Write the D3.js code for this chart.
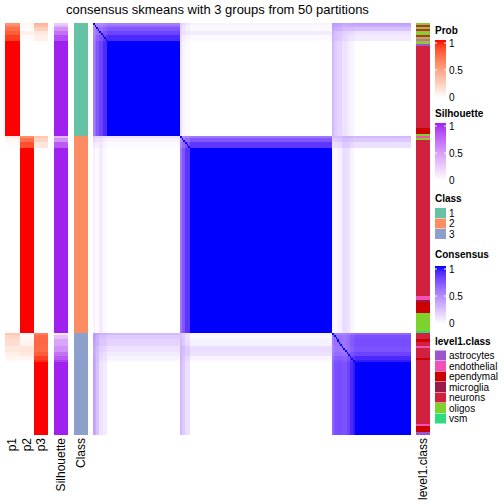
<!DOCTYPE html>
<html><head><meta charset="utf-8">
<script src="https://cdn.jsdelivr.net/npm/d3@7"></script>
<style>
html,body{margin:0;padding:0;background:#fff;}
text{font-family:"Liberation Sans",Arial,Helvetica,sans-serif;}
</style></head>
<body><div id="chart"></div>
<script>
// ---------------- DATA ----------------
const chartTitle = "consensus skmeans with 3 groups from 50 partitions";
// runs of samples in row order (count, class, membership probs p1..p3, silhouette)
const segCounts = [1, 1, 2, 2, 3, 46,   1, 2, 3, 90,   1, 2, 3, 3, 2, 2, 1, 35];
const segClass  = [1, 1, 1, 1, 1, 1,    2, 2, 2, 2,    3, 3, 3, 3, 3, 3, 3, 3];
const segP1     = [0.55,0.62,0.72,0.80,0.90,1.00, 0.12,0.05,0.02,0.00, 0.30,0.22,0.18,0.12,0.08,0.05,0.03,0.00];
const segP2     = [0.05,0.03,0.02,0.08,0.02,0.00, 0.58,0.72,0.85,1.00, 0.05,0.03,0.06,0.14,0.12,0.05,0.02,0.00];
const segP3     = [0.40,0.35,0.26,0.12,0.08,0.00, 0.30,0.23,0.13,0.00, 0.65,0.75,0.76,0.74,0.80,0.90,0.95,1.00];
const segSil    = [0.25,0.35,0.55,0.70,0.85,1.00, 0.35,0.55,0.80,1.00, 0.10,0.30,0.45,0.55,0.70,0.80,0.90,1.00];
// level1.class runs in row order
const l1Counts = [1,1,1,1,2,1,1,1,1,1, 40, 3, 1, 1,1, 76, 2,1,5, 9, 1, 3,1,2,1,1,4,1, 31, 1, 3];
const l1Labels = ["oligos","neurons","oligos","neurons","oligos","neurons","oligos","endothelial","oligos","astrocytes",
  "neurons","ependymal","oligos","endothelial","oligos","neurons","endothelial","microglia","ependymal","oligos","vsm",
  "neurons","ependymal","neurons","endothelial","neurons","neurons","ependymal","neurons","endothelial","ependymal"];
const classLevels = ["1","2","3"];
const l1Levels = ["astrocytes","endothelial","ependymal","microglia","neurons","oligos","vsm"];
const legendTicks = [0, 0.5, 1];
const annoNames = ["p1","p2","p3","Silhouette","Class"];

// ---------------- STYLE ----------------
const classColors = ["#66C2A5","#FC8D62","#8DA0CB"];
const l1Colors = ["#9E56CF","#F451B8","#CC0000","#9A1A4A","#D1213F","#7ED22C","#2EDB7D"];

// ---------------- BUILD ----------------
const samples = [];
segCounts.forEach((c, s) => {
  for (let k = 0; k < c; k++) samples.push({cls: segClass[s], p: [segP1[s], segP2[s], segP3[s]], sil: segSil[s]});
});
let sIdx = 0;
l1Counts.forEach((c, s) => { for (let k = 0; k < c; k++) { if (samples[sIdx]) samples[sIdx].l1 = l1Labels[s]; sIdx++; } });
const N = samples.length;

const W = 504, H = 504;
const svg = d3.select("#chart").append("svg").attr("width", W).attr("height", H);

const yTop = 23, yBot = 434;
const y = d3.scaleBand().domain(d3.range(N)).range([yTop, yBot]);
const x = d3.scaleBand().domain(d3.range(N)).range([93, 410]);
const annoX = d3.scaleOrdinal().domain(annoNames).range([[5,19.5],[19.5,34],[34,48],[54,68],[74,88]]);
const l1X = [416, 430];

const probColor = d3.scaleLinear().domain([0,1]).range(["#ffffff","#ff0000"]).interpolate(d3.interpolateLab);
const silColor = d3.scaleLinear().domain([0,1]).range(["#ffffff","#A020F0"]).interpolate(d3.interpolateLab);
const consColor = d3.scaleLinear().domain([0,1]).range(["#ffffff","#0000ff"]).interpolate(d3.interpolateLab);
const classColor = d3.scaleOrdinal().domain(classLevels).range(classColors);
const l1Color = d3.scaleOrdinal().domain(l1Levels).range(l1Colors);

const ov = 0.6;
// consensus matrix cells
const cells = [];
for (let i = 0; i < N; i++) for (let j = 0; j < N; j++) {
  const v = i === j ? 1 : d3.sum([0,1,2], k => samples[i].p[k] * samples[j].p[k]);
  cells.push({i, j, v});
}
svg.append("g").attr("shape-rendering","crispEdges").selectAll("rect").data(cells).join("rect")
  .attr("x", d => x(d.j)).attr("y", d => y(d.i))
  .attr("width", x.bandwidth() + ov).attr("height", y.bandwidth() + ov)
  .attr("fill", d => consColor(d.v));

// annotation columns
const annoG = svg.append("g").attr("shape-rendering","crispEdges");
[0,1,2].forEach(k => {
  const r = annoX(annoNames[k]);
  annoG.append("g").selectAll("rect").data(samples).join("rect")
    .attr("x", r[0]).attr("width", r[1]-r[0]).attr("y", (d,i) => y(i)).attr("height", y.bandwidth()+ov)
    .attr("fill", d => probColor(d.p[k]));
});
{
  const r = annoX("Silhouette");
  annoG.append("g").selectAll("rect").data(samples).join("rect")
    .attr("x", r[0]).attr("width", r[1]-r[0]).attr("y", (d,i) => y(i)).attr("height", y.bandwidth()+ov)
    .attr("fill", d => silColor(d.sil));
  const r2 = annoX("Class");
  annoG.append("g").selectAll("rect").data(samples).join("rect")
    .attr("x", r2[0]).attr("width", r2[1]-r2[0]).attr("y", (d,i) => y(i)).attr("height", y.bandwidth()+ov)
    .attr("fill", d => classColor(String(d.cls)));
  annoG.append("g").selectAll("rect").data(samples).join("rect")
    .attr("x", l1X[0]).attr("width", l1X[1]-l1X[0]).attr("y", (d,i) => y(i)).attr("height", y.bandwidth()+ov)
    .attr("fill", d => l1Color(d.l1));
}

// bottom annotation names
const nameList = annoNames.map(n => ({n, c: (annoX(n)[0]+annoX(n)[1])/2})).concat([{n:"level1.class", c:(l1X[0]+l1X[1])/2}]);
svg.append("g").selectAll("text").data(nameList).join("text")
  .attr("transform", d => `translate(${d.c},438) rotate(-90)`)
  .attr("text-anchor","end").attr("dy","0.35em")
  .attr("font-size", 12).attr("fill","#000").text(d => d.n);

// title
svg.append("text").attr("x", 217.5).attr("y", 13.5).attr("text-anchor","middle")
  .attr("font-size", 13).attr("fill","#000").text(chartTitle);

// ---------------- LEGENDS ----------------
const lx = 435, lw = 11;
const defs = svg.append("defs");
function gradLegend(id, title, titleY, barTop, barBot, color) {
  const g = defs.append("linearGradient").attr("id", id).attr("x1",0).attr("x2",0).attr("y1",1).attr("y2",0);
  d3.range(0, 1.0001, 0.1).forEach(t => g.append("stop").attr("offset", t).attr("stop-color", color(t)));
  svg.append("text").attr("x", lx).attr("y", titleY).attr("font-size", 10).attr("font-weight","bold").text(title);
  const s = d3.scaleLinear().domain([0,1]).range([barBot - 1, barTop + 3]);
  svg.append("rect").attr("x", lx).attr("y", barTop).attr("width", lw).attr("height", barBot - barTop).attr("fill", `url(#${id})`);
  const tg = svg.append("g");
  tg.selectAll("line.l").data(legendTicks).join("line").attr("x1", lx).attr("x2", lx+2)
    .attr("y1", d => s(d)).attr("y2", d => s(d)).attr("stroke","#fff").attr("stroke-width",1);
  tg.selectAll("line.r").data(legendTicks).join("line").attr("x1", lx+lw-2).attr("x2", lx+lw)
    .attr("y1", d => s(d)).attr("y2", d => s(d)).attr("stroke","#fff").attr("stroke-width",1);
  tg.selectAll("text").data(legendTicks).join("text").attr("x", lx+lw+3).attr("y", d => s(d)).attr("dy","0.35em")
    .attr("font-size", 10).text(d => d3.format("~g")(d));
}
gradLegend("gProb", "Prob", 34, 40, 98, probColor);
gradLegend("gSil", "Silhouette", 117, 123, 181, silColor);
gradLegend("gCons", "Consensus", 258, 266, 324, consColor);

function catLegend(title, titleY, boxTop, levels, color) {
  svg.append("text").attr("x", lx).attr("y", titleY).attr("font-size", 10).attr("font-weight","bold").text(title);
  const s = d3.scaleBand().domain(levels).range([boxTop, boxTop + 10.5*levels.length]);
  const g = svg.append("g");
  g.selectAll("rect").data(levels).join("rect").attr("x", lx).attr("y", d => s(d)).attr("width", lw).attr("height", 10)
    .attr("fill", d => color(d));
  g.selectAll("text").data(levels).join("text").attr("x", lx+lw+3).attr("y", d => s(d)+5).attr("dy","0.35em")
    .attr("font-size", 10).text(d => d);
}
catLegend("Class", 202, 208, classLevels, classColor);
catLegend("level1.class", 345, 350.5, l1Levels, l1Color);
</script></body></html>
